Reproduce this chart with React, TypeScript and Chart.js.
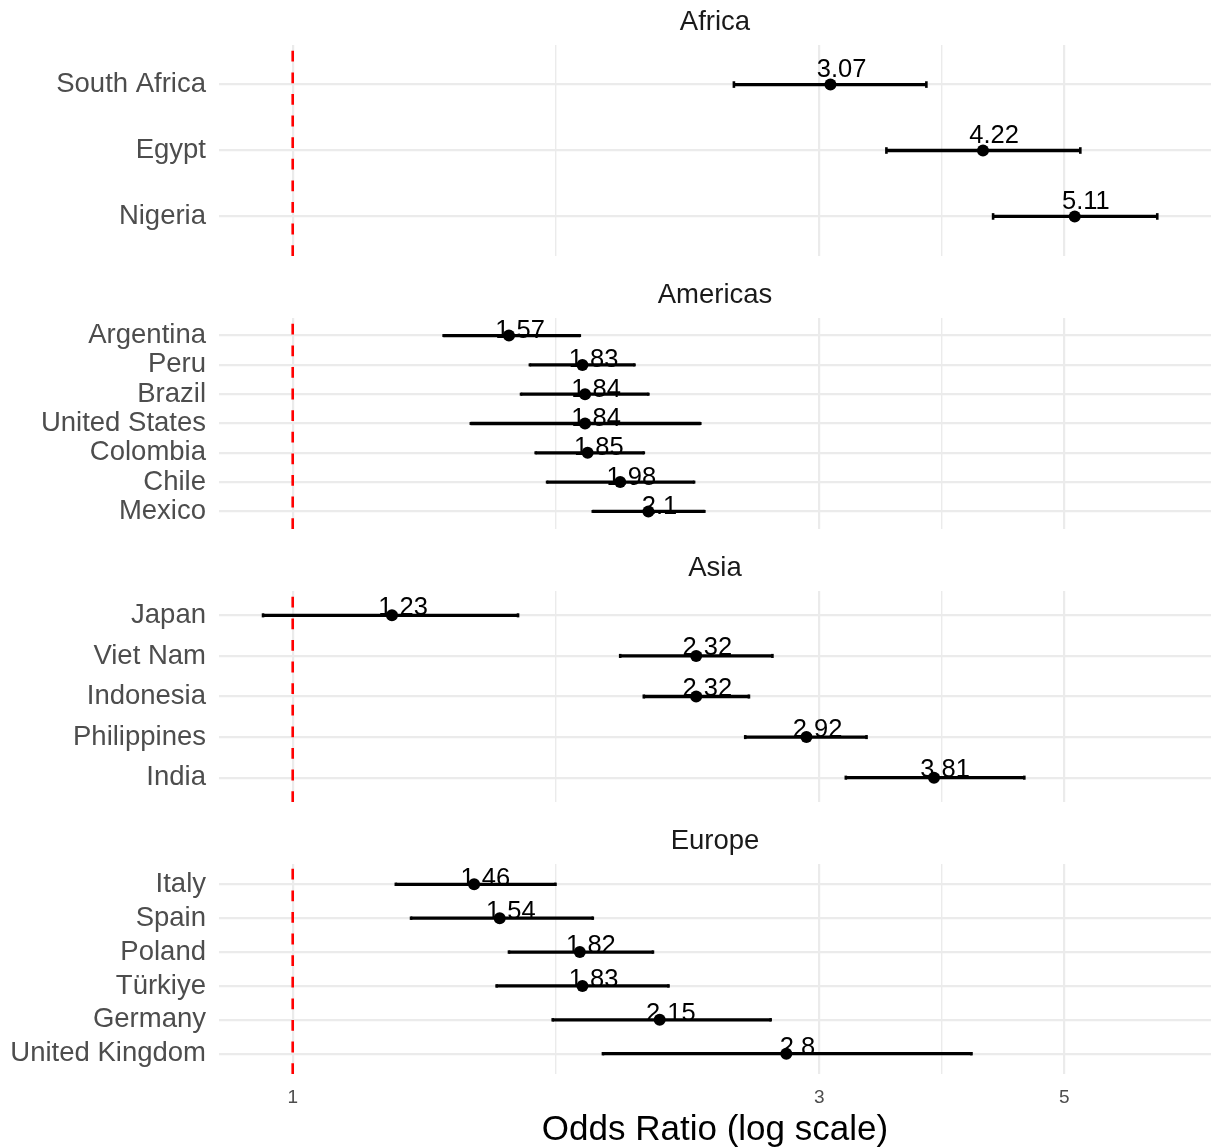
import React, { useEffect, useRef } from 'react';
import { Chart, registerables } from 'chart.js';

Chart.register(...registerables);

const FONT = '"Liberation Sans", Arimo, Arial, Helvetica, sans-serif';

// ---- Data ----
const regionNames = ['Africa', 'Americas', 'Asia', 'Europe'];

const africaCountries = ['South Africa', 'Egypt', 'Nigeria'];
const africaOR = [3.07, 4.22, 5.11];
const africaLower = [2.51, 3.45, 4.31];
const africaUpper = [3.75, 5.17, 6.07];

const americasCountries = ['Argentina', 'Peru', 'Brazil', 'United States', 'Colombia', 'Chile', 'Mexico'];
const americasOR = [1.57, 1.83, 1.84, 1.84, 1.85, 1.98, 2.1];
const americasLower = [1.37, 1.64, 1.61, 1.45, 1.66, 1.7, 1.87];
const americasUpper = [1.82, 2.04, 2.1, 2.34, 2.08, 2.31, 2.36];

const asiaCountries = ['Japan', 'Viet Nam', 'Indonesia', 'Philippines', 'India'];
const asiaOR = [1.23, 2.32, 2.32, 2.92, 3.81];
const asiaLower = [0.94, 1.98, 2.08, 2.57, 3.17];
const asiaUpper = [1.6, 2.72, 2.59, 3.31, 4.6];

const europeCountries = ['Italy', 'Spain', 'Poland', 'Türkiye', 'Germany', 'United Kingdom'];
const europeOR = [1.46, 1.54, 1.82, 1.83, 2.15, 2.8];
const europeLower = [1.24, 1.28, 1.57, 1.53, 1.72, 1.91];
const europeUpper = [1.73, 1.87, 2.12, 2.19, 2.71, 4.12];

const xTickLabels = [1, 3, 5];
const xMinorBreaks = [1.732, 3.873];
const xAxisLimits = [0.8575, 6.79];
const referenceOR = 1;
const xAxisTitle = 'Odds Ratio (log scale)';

type PanelProps = {
  title: string;
  countries: string[];
  or: number[];
  lower: number[];
  upper: number[];
  top: number;
  height: number;
  last: boolean;
};

function Panel({ title, countries, or, lower, upper, top, height, last }: PanelProps) {
  const ref = useRef<HTMLCanvasElement>(null);

  useEffect(() => {
    const canvas = ref.current;
    if (!canvas) return;
    const n = countries.length;

    const rowGap = (ch: any) => {
      const ys = ch.scales.y;
      return Math.abs(ys.getPixelForValue(1) - ys.getPixelForValue(0));
    };

    const refLine = {
      id: 'refLine',
      beforeDatasetsDraw(ch: any) {
        const { ctx, chartArea } = ch;
        const x = ch.scales.x.getPixelForValue(referenceOR);
        ctx.save();
        ctx.strokeStyle = '#ff0000';
        ctx.lineWidth = 2.6;
        ctx.setLineDash([10.8, 10.8]);
        ctx.beginPath();
        ctx.moveTo(x, chartArea.bottom);
        ctx.lineTo(x, chartArea.top);
        ctx.stroke();
        ctx.restore();
      },
    };

    const labelSize = 25.5;
    const orLabels = {
      id: 'orLabels',
      afterDatasetsDraw(ch: any) {
        const { ctx } = ch;
        const xs = ch.scales.x;
        const ys = ch.scales.y;
        ctx.save();
        ctx.fillStyle = '#000';
        ctx.font = `${labelSize}px ${FONT}`;
        ctx.textAlign = 'center';
        ctx.textBaseline = 'alphabetic';
        or.forEach((v, i) => {
          const x = xs.getPixelForValue(v * 1.0235);
          const y = ys.getPixelForValue(i - 0.265) + labelSize * 0.4;
          ctx.fillText(String(v), x, y);
        });
        ctx.restore();
      },
    };

    const chart = new Chart(canvas, {
      type: 'bar',
      data: {
        datasets: [
          {
            type: 'scatter',
            data: or.map((v, i) => ({ x: v, y: i })),
            pointRadius: 6,
            pointBackgroundColor: '#000',
            pointBorderColor: '#000',
            pointBorderWidth: 0,
            order: 0,
          } as any,
          {
            type: 'scatter',
            data: lower.map((v, i) => ({ x: v, y: i })),
            pointStyle: 'line',
            pointRotation: 90,
            pointRadius: (c: any) => rowGap(c.chart) * 0.05,
            pointBorderColor: '#000',
            borderColor: '#000',
            pointBorderWidth: 2.6,
            order: 1,
          } as any,
          {
            type: 'scatter',
            data: upper.map((v, i) => ({ x: v, y: i })),
            pointStyle: 'line',
            pointRotation: 90,
            pointRadius: (c: any) => rowGap(c.chart) * 0.05,
            pointBorderColor: '#000',
            borderColor: '#000',
            pointBorderWidth: 2.6,
            order: 1,
          } as any,
          {
            type: 'bar',
            data: countries.map((_, i) => ({ x: [lower[i], upper[i]], y: i })),
            backgroundColor: '#000',
            borderWidth: 0,
            barThickness: 2.6,
            order: 2,
          } as any,
        ],
      },
      options: {
        indexAxis: 'y',
        animation: false,
        responsive: false,
        maintainAspectRatio: false,
        layout: { autoPadding: false, padding: { left: 0, right: 0, top: 0, bottom: last ? 0 : 17 } },
        plugins: {
          legend: { display: false },
          tooltip: { enabled: false },
          title: {
            display: true,
            text: title,
            fullSize: false,
            color: '#1a1a1a',
            font: { family: FONT, size: 27.5, weight: 'normal', lineHeight: 1.2 },
            padding: { top: 6, bottom: 6 },
          },
        },
        scales: {
          x: {
            type: 'logarithmic',
            min: xAxisLimits[0],
            max: xAxisLimits[1],
            afterBuildTicks: (s: any) => {
              s.ticks = [...xTickLabels, ...xMinorBreaks].sort((a, b) => a - b).map((v) => ({ value: v }));
            },
            grid: {
              color: '#ebebeb',
              lineWidth: (c: any) => (c.tick && xTickLabels.includes(c.tick.value) ? 2.2 : 1.4),
              drawTicks: false,
            },
            border: { display: false },
            ticks: {
              display: last,
              autoSkip: false,
              maxRotation: 0,
              minRotation: 0,
              color: '#4d4d4d',
              font: { family: FONT, size: 19 },
              padding: 12.6,
              callback: (v: any) => (xTickLabels.includes(Number(v)) ? String(v) : ''),
            },
            title: {
              display: last,
              text: xAxisTitle,
              color: '#000',
              font: { family: FONT, size: 35, lineHeight: 16 / 35 },
              padding: { top: 0, bottom: 9 },
            },
          } as any,
          y: {
            type: 'linear',
            min: -0.6,
            max: n - 0.4,
            reverse: true,
            offset: false,
            afterBuildTicks: (s: any) => {
              s.ticks = countries.map((_, i) => ({ value: i }));
            },
            afterFit: (s: any) => {
              s.width = 219;
            },
            grid: {
              color: '#ebebeb',
              lineWidth: 2.2,
              drawTicks: true,
              tickLength: 13,
              tickColor: 'rgba(0,0,0,0)',
              offset: false,
            },
            border: { display: false },
            ticks: {
              autoSkip: false,
              padding: 0,
              color: '#4d4d4d',
              font: { family: FONT, size: 27.5, lineHeight: 1 },
              callback: (v: any) => countries[Number(v)] ?? '',
            },
          } as any,
        },
      } as any,
      plugins: [refLine, orLabels],
    });

    return () => chart.destroy();
  }, []);

  return (
    <canvas
      ref={ref}
      width={1211}
      height={height}
      style={{ position: 'absolute', left: 0, top, width: 1211, height, display: 'block' }}
    />
  );
}

export default function App() {
  useEffect(() => {
    document.body.style.overflow = 'hidden';
  }, []);

  const panels = [
    { countries: africaCountries, or: africaOR, lower: africaLower, upper: africaUpper },
    { countries: americasCountries, or: americasOR, lower: americasLower, upper: americasUpper },
    { countries: asiaCountries, or: asiaOR, lower: asiaLower, upper: asiaUpper },
    { countries: europeCountries, or: europeOR, lower: europeLower, upper: europeUpper },
  ];
  const tops = [0, 273, 546, 819];
  const heights = [273, 273, 273, 328];

  return (
    <div style={{ position: 'absolute', left: 0, top: 0, width: 1211, height: 1147, background: '#fff', overflow: 'hidden' }}>
      {panels.map((p, i) => (
        <Panel
          key={regionNames[i]}
          title={regionNames[i]}
          countries={p.countries}
          or={p.or}
          lower={p.lower}
          upper={p.upper}
          top={tops[i]}
          height={heights[i]}
          last={i === panels.length - 1}
        />
      ))}
    </div>
  );
}
